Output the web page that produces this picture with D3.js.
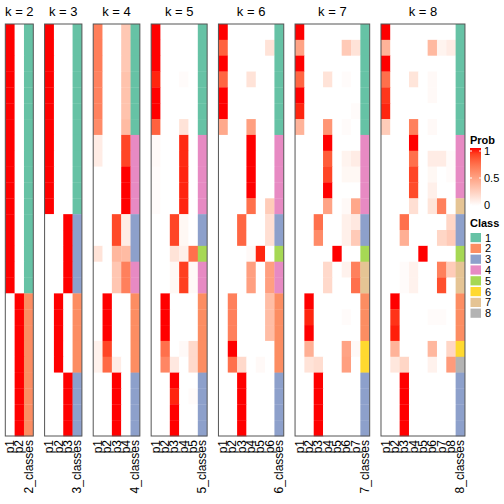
<!DOCTYPE html>
<html><head><meta charset="utf-8">
<script src="https://cdn.jsdelivr.net/npm/d3@7"></script>
<style>body{margin:0;background:#fff}svg{display:block}text{font-family:"Liberation Sans",Arial,sans-serif}</style>
</head><body>
<svg id="c" width="504" height="504"></svg>
<script>
// ---- data ----
const kValues = [2,3,4,5,6,7,8];
const classColors = ["#66C2A5","#FC8D62","#8DA0CB","#E78AC3","#A6D854","#FFD92F","#E5C494","#B3B3B3"];
const classLabels = ["1","2","3","4","5","6","7","8"];
const probTicks = [0, 0.5, 1];

const classK2 = [1,1,1,1,1,1,1,1,1,1,1,1,1,1,1,1,1,2,2,2,2,2,2,2,2,2];
const classK3 = [1,1,1,1,1,1,1,1,1,1,1,1,3,3,3,3,3,2,2,2,2,2,3,3,3,3];
const classK4 = [1,1,1,1,1,1,1,4,4,4,4,4,3,3,3,4,4,2,2,2,2,2,3,3,3,3];
const classK5 = [1,1,1,1,1,1,1,4,4,4,4,4,3,3,5,4,4,2,2,2,2,2,3,3,3,3];
const classK6 = [1,1,1,1,1,1,1,4,4,4,4,4,3,3,5,4,4,2,2,2,2,2,3,3,3,3];
const classK7 = [1,1,1,1,1,1,1,4,4,4,4,4,3,3,5,7,7,2,2,2,6,6,3,3,3,3];
const classK8 = [1,1,1,1,1,1,1,4,4,4,4,7,3,3,5,7,7,2,2,2,6,8,3,3,3,3];

const probK2 = [
[1,0],[1,0],[1,0],[1,0],[1,0],[1,0],[1,0],[1,0],[1,0],[1,0],[1,0],[1,0],[1,0],[1,0],[1,0],[1,0],[1,0],
[0,1],[0,1],[0,1],[0,1],[0,1],[0,1],[0,1],[0,1],[0,1]];
const probK3 = [
[1,0,0],[1,0,0],[1,0,0],[1,0,0],[1,0,0],[1,0,0],[1,0,0],[1,0,0],[1,0,0],[1,0,0],[1,0,0],[1,0,0],
[0,0,1],[0,0,1],[0,0,1],[0,0,1],[0,0,1],
[0,1,0],[0,1,0],[0,1,0],[0,1,0],[0,1,0],
[0,0,1],[0,0,1],[0,0,1],[0,0,1]];
const probK4 = [
[0.66,0,0,0.29],[0.66,0,0,0.29],[0.66,0,0,0.29],[0.64,0,0,0.32],[0.64,0,0,0.32],[0.64,0,0,0.32],[0.6,0,0,0.36],
[0.1,0,0,0.88],[0.1,0,0,0.88],[0,0,0,1],[0,0,0,1],[0,0,0,1],
[0,0,0.87,0.1],[0,0,0.87,0.1],[0.15,0,0.38,0.36],
[0,0,0.3,0.65],[0,0,0.3,0.65],
[0,1,0,0],[0,1,0,0],[0,1,0,0],[0.07,0.88,0,0],[0.07,0.75,0.1,0],
[0,0,1,0],[0,0,1,0],[0,0,1,0],[0,0,1,0]];
const probK5 = [
[1,0,0,0,0],[1,0,0,0,0],[1,0,0,0,0],[0.96,0,0,0.02,0],[1,0,0,0,0],[1,0,0,0,0],[0.78,0,0,0.15,0],
[0.03,0,0,0.95,0],[0.03,0,0,0.95,0],[0.02,0,0,0.96,0],[0.02,0,0,0.96,0],[0.02,0,0,0.96,0],
[0,0,0.88,0.04,0],[0,0,0.88,0.04,0],[0,0,0.15,0.08,0.72],
[0,0,0.04,0.9,0.03],[0,0,0.04,0.9,0.03],
[0,1,0,0,0],[0,1,0,0,0],[0,1,0,0,0],[0,0.72,0,0.03,0.2],[0,0.62,0.12,0,0.2],
[0,0,1,0,0],[0,0,0.96,0,0.02],[0,0,1,0,0],[0,0,1,0,0]];
const probK6 = [
[1,0,0,0,0,0],[0.78,0,0,0,0,0.15],[1,0,0,0,0,0],[0.76,0,0,0.15,0,0],[1,0,0,0,0,0],[1,0,0,0,0,0],[0.45,0,0,0.5,0,0],
[0,0,0,1,0,0],[0,0,0,1,0,0],[0,0,0,1,0,0],[0,0,0,1,0,0],[0,0,0,0.72,0,0.27],
[0,0,0.76,0,0,0.17],[0,0,0.76,0,0,0.17],[0,0,0,0.03,0.96,0],
[0,0,0,0.5,0,0.5],[0,0,0,0.5,0,0.5],
[0,0.65,0,0,0,0.35],[0,0.65,0,0,0,0.35],[0,0.65,0,0,0,0.35],[0,1,0,0,0,0],[0,0.72,0.2,0,0.03,0],
[0,0,1,0,0,0],[0,0,1,0,0,0],[0,0,1,0,0,0],[0,0,1,0,0,0]];
const probK7 = [
[1,0,0,0,0,0,0],[0.48,0,0,0,0,0.28,0.15],[1,0,0,0,0,0,0],[0.76,0,0,0.15,0,0.02,0],[1,0,0,0,0,0,0],[0.96,0,0,0,0,0,0.02],[0.4,0,0,0.55,0,0.02,0],
[0,0,0,1,0,0,0],[0,0,0,0.8,0,0.06,0.1],[0,0,0,0.88,0,0.04,0.04],[0,0,0,1,0,0,0],[0,0,0,0.48,0,0.03,0.46],
[0,0,0.72,0,0,0.08,0.12],[0,0,0.6,0,0,0.08,0.28],[0,0,0,0,1,0,0],
[0,0,0,0.2,0,0.07,0.65],[0,0,0,0.2,0,0,0.72],
[0,1,0,0,0,0,0],[0,0.96,0,0,0,0.02,0],[0,1,0,0,0,0,0],[0,0.42,0,0,0,0.48,0.03],[0,0.15,0.18,0,0,0.5,0],
[0,0,1,0,0,0,0],[0,0,1,0,0,0,0],[0,0,1,0,0,0,0],[0,0,1,0,0,0,0]];
const probK8 = [
[1,0,0,0,0,0,0,0],[0.4,0,0,0,0,0.37,0.06,0.1],[1,0,0,0,0,0,0,0],[0.72,0,0,0.14,0,0.03,0,0],[0.92,0,0,0,0,0.03,0,0],[0.96,0,0,0,0,0,0,0],[0.27,0,0,0.65,0,0.03,0,0],
[0,0,0,1,0,0,0,0],[0,0,0,0.72,0,0.1,0.1,0.02],[0,0,0,0.88,0,0.04,0,0.02],[0,0,0,0.86,0,0.08,0,0],[0,0,0,0.17,0,0.14,0.65,0],
[0,0,0.72,0,0,0,0,0.22],[0,0,0.42,0,0,0,0.22,0.28],[0,0,0,0,1,0,0,0],
[0,0,0.02,0.07,0,0,0.65,0.27],[0,0,0.02,0.07,0,0,0.85,0],
[0,1,0,0,0,0,0,0],[0,0.93,0,0,0,0.02,0.02,0],[0,0.97,0,0,0,0,0,0],[0,0.4,0,0,0,0.38,0,0.22],[0,0.13,0.22,0,0,0.07,0,0.52],
[0,0,1,0,0,0,0,0],[0,0,1,0,0,0,0,0],[0,0,1,0,0,0,0,0],[0,0,1,0,0,0,0,0]];

const probs = [probK2,probK3,probK4,probK5,probK6,probK7,probK8];
const classes = [classK2,classK3,classK4,classK5,classK6,classK7,classK8];

// ---- layout ----
const svg = d3.select("#c");
const hmTop = 24, hmBottom = 436, left0 = 5.3, colW = 9.33, gap = 11.3;
const nRows = classK2.length;
const y = d3.scaleBand().domain(d3.range(nRows)).range([hmTop, hmBottom]);
const color = d3.scaleLinear().domain([0,1]).range(["#ffffff","#ff0000"]).interpolate(d3.interpolateLab);
const classColor = d3.scaleOrdinal().domain(d3.range(1,9)).range(classColors);

let xStart = left0;
kValues.forEach((k, pi) => {
  const cols = d3.range(k).map(i => "p" + (i+1)).concat([k + "_classes"]);
  const w = cols.length * colW;
  const x = d3.scaleBand().domain(cols).range([xStart, xStart + w]);
  const g = svg.append("g");
  const P = probs[pi], C = classes[pi];
  P.forEach((row, r) => {
    row.forEach((v, c) => {
      g.append("rect").attr("x", x(cols[c])).attr("y", y(r))
        .attr("width", x.bandwidth() + 0.3).attr("height", y.bandwidth() + 0.3)
        .attr("fill", color(v));
    });
    g.append("rect").attr("x", x(cols[k])).attr("y", y(r))
      .attr("width", x.bandwidth()).attr("height", y.bandwidth() + 0.3)
      .attr("fill", classColor(C[r]));
  });
  g.append("rect").attr("x", xStart).attr("y", hmTop).attr("width", w).attr("height", hmBottom - hmTop)
    .attr("fill", "none").attr("stroke", "#555").attr("stroke-width", 1);
  g.append("text").attr("x", xStart + w/2).attr("y", 16).attr("text-anchor", "middle")
    .attr("font-size", 13).text("k = " + k);
  cols.forEach(cn => {
    g.append("text")
      .attr("transform", `translate(${x(cn) + x.bandwidth()/2},440) rotate(-90)`)
      .attr("text-anchor", "end").attr("dominant-baseline", "central")
      .attr("font-size", 12).text(cn);
  });
  xStart += w + gap;
});

// ---- legends ----
const lx = 470;
svg.append("text").attr("x", lx).attr("y", 144).attr("font-size", 11).attr("font-weight", "bold").text("Prob");
const defs = svg.append("defs");
const grad = defs.append("linearGradient").attr("id", "pg").attr("x1", 0).attr("x2", 0).attr("y1", 1).attr("y2", 0);
d3.range(0, 1.001, 0.1).forEach(t => grad.append("stop").attr("offset", t).attr("stop-color", color(t)));
const ly = d3.scaleLinear().domain([0,1]).range([205, 151]);
svg.append("rect").attr("x", lx).attr("y", 148).attr("width", 11).attr("height", 58).attr("fill", "url(#pg)");
probTicks.forEach(t => {
  svg.append("line").attr("x1", lx).attr("x2", lx + 2).attr("y1", ly(t)).attr("y2", ly(t)).attr("stroke", "#fff");
  svg.append("line").attr("x1", lx + 9).attr("x2", lx + 11).attr("y1", ly(t)).attr("y2", ly(t)).attr("stroke", "#fff");
  svg.append("text").attr("x", lx + 14).attr("y", ly(t)).attr("dominant-baseline", "central")
    .attr("font-size", 11).text(t);
});
svg.append("text").attr("x", lx).attr("y", 227).attr("font-size", 11).attr("font-weight", "bold").text("Class");
const cy = d3.scaleBand().domain(classLabels).range([233, 233 + 8 * 10.6]).paddingInner(0.15);
classLabels.forEach((c, i) => {
  svg.append("rect").attr("x", lx + 0.5).attr("y", cy(c)).attr("width", 10.5).attr("height", cy.bandwidth())
    .attr("fill", classColors[i]);
  svg.append("text").attr("x", lx + 15).attr("y", cy(c) + cy.bandwidth()/2).attr("dominant-baseline", "central")
    .attr("font-size", 11).text(c);
});
</script>
</body></html>
